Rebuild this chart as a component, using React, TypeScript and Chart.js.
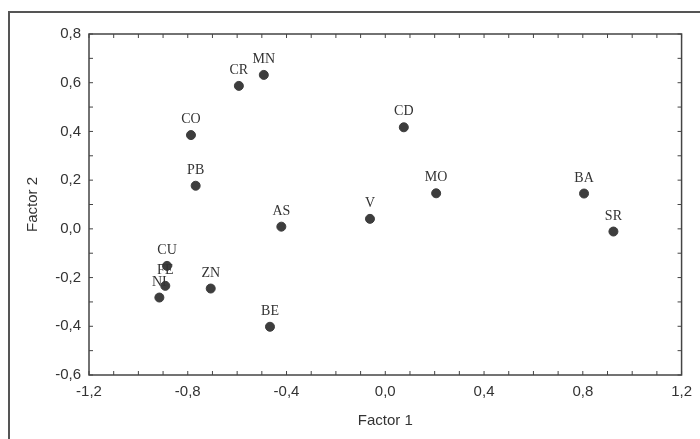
import React, { useEffect, useRef } from "react";
import { Chart, registerables } from "chart.js";

Chart.register(...registerables);

const elements = ["CR", "MN", "CO", "PB", "CD", "MO", "BA", "SR", "V", "AS", "CU", "FE", "NI", "ZN", "BE"];
const factor1 = [-0.593, -0.492, -0.787, -0.768, 0.075, 0.206, 0.805, 0.924, -0.062, -0.421, -0.884, -0.891, -0.915, -0.707, -0.467];
const factor2 = [0.587, 0.632, 0.385, 0.177, 0.417, 0.146, 0.145, -0.011, 0.041, 0.009, -0.152, -0.234, -0.282, -0.245, -0.402];

const xMin = -1.2, xMax = 1.2, xStep = 0.4;
const yMin = -0.6, yMax = 0.8, yStep = 0.2;
const minorStep = 0.1;

const fmt = (v: number) => {
  const r = Math.round(v * 10) / 10;
  return (Math.abs(r) < 1e-9 ? 0 : r).toFixed(1).replace(".", ",");
};

const decorPlugin = {
  id: "decor",
  beforeDraw(chart: any) {
    const ctx = chart.ctx;
    ctx.save();
    ctx.fillStyle = "#ffffff";
    ctx.fillRect(0, 0, chart.width, chart.height);
    ctx.strokeStyle = "#555";
    ctx.lineWidth = 2;
    ctx.strokeRect(9, 12, chart.width + 20, chart.height + 20);
    ctx.restore();
  },
  afterDatasetsDraw(chart: any) {
    const ctx = chart.ctx;
    const { left, right, top, bottom } = chart.chartArea;
    const xs = chart.scales.x;
    const ys = chart.scales.y;
    ctx.save();
    ctx.strokeStyle = "#444";
    ctx.lineWidth = 1.5;
    ctx.strokeRect(left, top, right - left, bottom - top);
    ctx.lineWidth = 1;
    const len = 4;
    ctx.beginPath();
    for (let i = 0; ; i++) {
      const v = xMin + i * minorStep;
      if (v > xMax + 1e-9) break;
      const px = xs.getPixelForValue(v);
      ctx.moveTo(px, bottom); ctx.lineTo(px, bottom - len);
      ctx.moveTo(px, top); ctx.lineTo(px, top + len);
    }
    for (let i = 0; ; i++) {
      const v = yMin + i * minorStep;
      if (v > yMax + 1e-9) break;
      const py = ys.getPixelForValue(v);
      ctx.moveTo(left, py); ctx.lineTo(left + len, py);
      ctx.moveTo(right, py); ctx.lineTo(right - len, py);
    }
    ctx.stroke();
    // point labels
    ctx.fillStyle = "#333";
    ctx.font = "14px 'Liberation Serif', 'Times New Roman', serif";
    ctx.textAlign = "center";
    ctx.textBaseline = "alphabetic";
    elements.forEach((name, i) => {
      const px = xs.getPixelForValue(factor1[i]);
      const py = ys.getPixelForValue(factor2[i]);
      ctx.fillText(name, px, py - 12);
    });
    ctx.restore();
  },
};

export default function App() {
  const ref = useRef<HTMLCanvasElement>(null);
  useEffect(() => {
    document.body.style.margin = "0";
    const canvas = ref.current!;
    const tickFont = { family: "'Liberation Sans', Arial, sans-serif", size: 15 };
    const chart = new Chart(canvas, {
      type: "scatter",
      data: {
        datasets: [
          {
            data: factor1.map((x, i) => ({ x, y: factor2[i] })),
            backgroundColor: "#3d3d3d",
            borderColor: "#3d3d3d",
            pointRadius: 4.5,
            pointHoverRadius: 4.5,
          },
        ],
      },
      options: {
        animation: false,
        responsive: false,
        maintainAspectRatio: false,
        layout: { padding: { left: 0, top: 34, right: 18, bottom: 0 } },
        plugins: { legend: { display: false }, tooltip: { enabled: false } },
        scales: {
          x: {
            type: "linear",
            min: xMin,
            max: xMax,
            grid: { display: false, drawTicks: false },
            border: { display: false },
            ticks: { stepSize: xStep, color: "#333", font: tickFont, padding: 8, callback: (v: any) => fmt(Number(v)) },
            title: { display: true, text: "Factor 1", color: "#333", font: tickFont, padding: { top: 0, bottom: 9 } },
            afterFit: (s: any) => { s.height = 64; },
          },
          y: {
            type: "linear",
            min: yMin,
            max: yMax,
            grid: { display: false, drawTicks: false },
            border: { display: false },
            ticks: { stepSize: yStep, color: "#333", font: tickFont, padding: 8, callback: (v: any) => fmt(Number(v)) },
            title: { display: true, text: "Factor 2", color: "#333", font: tickFont, padding: { top: 24, bottom: 0 } },
            afterFit: (s: any) => { s.width = 89; },
          },
        },
      },
      plugins: [decorPlugin],
    });
    return () => chart.destroy();
  }, []);
  return (
    <div style={{ width: 700, height: 439 }}>
      <canvas ref={ref} width={700} height={439} style={{ display: "block" }} />
    </div>
  );
}
